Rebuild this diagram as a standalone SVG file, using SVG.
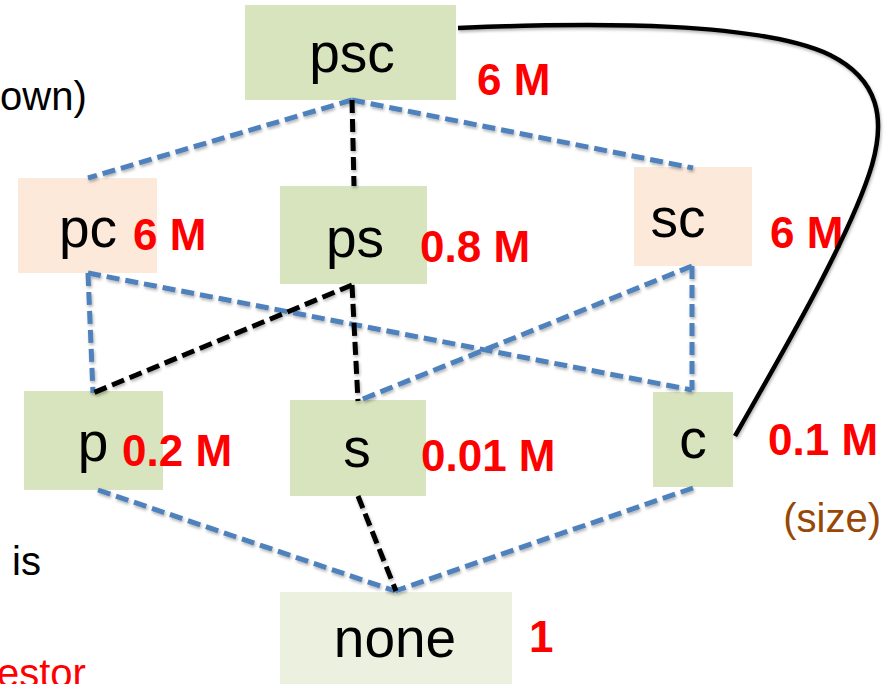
<svg xmlns="http://www.w3.org/2000/svg" width="891" height="684" viewBox="0 0 891 684">
  <defs>
    <filter id="soft" x="-10%" y="-10%" width="120%" height="130%">
      <feDropShadow dx="1" dy="2" stdDeviation="1.5" flood-color="#000" flood-opacity="0.3"/>
    </filter>
  </defs>
  <style>
    .g { fill: #d7e4bd; }
    .o { fill: #fde9d9; }
    .n { fill: #ebf1de; }
    .lbl { font-family: "Liberation Sans", Arial, sans-serif; font-size: 55px; fill: #000; text-anchor: middle; }
    .sz { font-family: "Liberation Sans", Arial, sans-serif; font-size: 44px; font-weight: bold; fill: #ff0000; }
    .side { font-family: "Liberation Sans", Arial, sans-serif; font-size: 40px; }
    .blue { stroke: #4f81bd; stroke-width: 5; fill: none; stroke-dasharray: 13 6; }
    .black { stroke: #000; stroke-width: 5; fill: none; stroke-dasharray: 13 6; }
    .solid { stroke: #000; stroke-width: 4.5; fill: none; }
  </style>

  <rect width="891" height="684" fill="#fff"/>

  <!-- side notes -->
  <text class="side" x="0" y="110" fill="#000">own)</text>
  <text class="side" x="12" y="575" fill="#000">is</text>
  <text class="side" x="-3" y="687" fill="#ff0000">estor</text>
  <text class="side" x="881" y="532" text-anchor="end" fill="#984806">(size)</text>

  <!-- nodes -->
  <g id="psc">
    <rect class="g" x="245" y="5" width="211" height="95"/>
    <text class="lbl" x="352" y="72">psc</text>
    <text class="sz" x="477" y="95">6 M</text>
  </g>
  <g id="pc">
    <rect class="o" x="18" y="178" width="139" height="95"/>
    <text class="lbl" x="88" y="247">pc</text>
    <text class="sz" x="133" y="250">6 M</text>
  </g>
  <g id="ps">
    <rect class="g" x="280" y="186" width="147" height="98"/>
    <text class="lbl" x="355" y="257">ps</text>
    <text class="sz" x="420" y="262">0.8 M</text>
  </g>
  <g id="sc">
    <rect class="o" x="634" y="167" width="118" height="99"/>
    <text class="lbl" x="678" y="237">sc</text>
    <text class="sz" x="770" y="248">6 M</text>
  </g>
  <g id="p">
    <rect class="g" x="24" y="391" width="139" height="99"/>
    <text class="lbl" x="93" y="461">p</text>
    <text class="sz" x="122" y="466">0.2 M</text>
  </g>
  <g id="s">
    <rect class="g" x="290" y="400" width="136" height="96"/>
    <text class="lbl" x="357" y="467">s</text>
    <text class="sz" x="421" y="471">0.01 M</text>
  </g>
  <g id="c">
    <rect class="g" x="653" y="392" width="80" height="95"/>
    <text class="lbl" x="693" y="458">c</text>
    <text class="sz" x="768" y="455">0.1 M</text>
  </g>
  <g id="none">
    <rect class="n" x="280" y="592" width="232" height="92"/>
    <text class="lbl" x="395" y="657">none</text>
    <text class="sz" x="529" y="652">1</text>
  </g>

  <!-- connectors -->
  <g id="edges" filter="url(#soft)">
    <path class="blue" d="M352 100 L88 178"/>
    <path class="blue" d="M352 100 L693 168"/>
    <path class="blue" d="M88 273 L93 393"/>
    <path class="blue" d="M88 273 L692 390"/>
    <path class="blue" d="M692 266 L358 401"/>
    <path class="blue" d="M692 266 L692 390"/>
    <path class="blue" d="M98 490 L395 591"/>
    <path class="blue" d="M693 488 L395 591"/>
    <path class="black" d="M352 100 L354 186"/>
    <path class="black" d="M352 285 L93 393"/>
    <path class="black" d="M352 285 L358 401"/>
    <path class="black" d="M358 496 L396 591"/>
    <path class="solid" d="M458 28 C600 22 760 22 830 55 C880 80 885 120 872 165 C852 232 790 340 735 436"/>
  </g>
</svg>
